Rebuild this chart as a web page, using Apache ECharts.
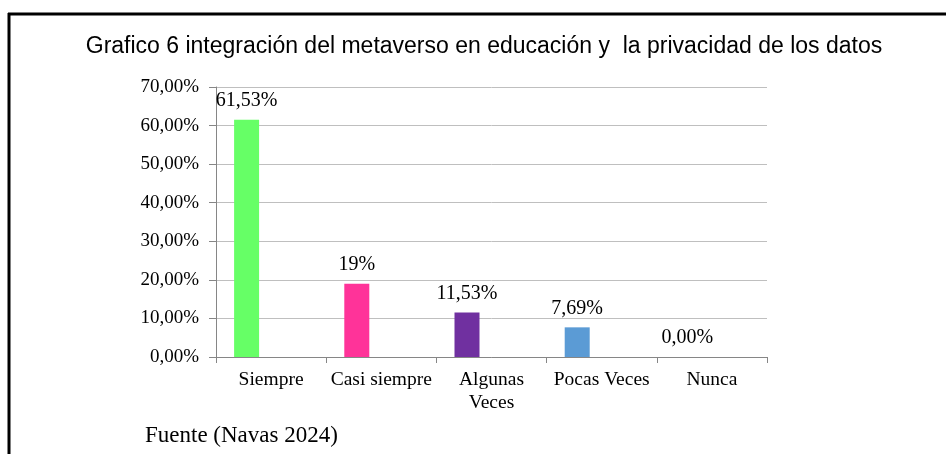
<!DOCTYPE html>
<html>
<head>
<meta charset="utf-8">
<script src="https://cdn.jsdelivr.net/npm/echarts@6/dist/echarts.min.js"></script>
<style>
  html, body { margin: 0; padding: 0; background: #fff; }
  #chart { width: 946px; height: 454px; }
</style>
</head>
<body>
<div id="chart"></div>
<script>
const categories = ["Siempre", "Casi siempre", "Algunas\nVeces", "Pocas Veces", "Nunca"];
const values = [61.53, 19, 11.53, 7.69, 0];
const valueLabels = ["61,53%", "19%", "11,53%", "7,69%", "0,00%"];
const barColors = ["#66FF66", "#FF3399", "#7030A0", "#5B9BD5", "#A5A5A5"];
const yTicks = { min: 0, max: 70, interval: 10 };

const chart = echarts.init(document.getElementById("chart"));
const serif = "'Liberation Serif', 'Times New Roman', serif";

let option = {
  animation: false,
  backgroundColor: "#fff",
  title: [
    {
      text: "Grafico 6 integración del metaverso en educación y  la privacidad de los datos",
      left: 479,
      top: 30,
      textAlign: "center",
      textStyle: {
        fontFamily: "'Liberation Sans', Arial, sans-serif",
        fontSize: 23,
        fontWeight: "normal",
        color: "#000"
      }
    },
    {
      text: "Fuente (Navas 2024)",
      left: 140,
      top: 419,
      textStyle: {
        fontFamily: serif,
        fontSize: 23,
        fontWeight: "normal",
        color: "#000"
      }
    }
  ],
  grid: {
    left: 216,
    right: 179,
    top: 87,
    bottom: 97,
    containLabel: false
  },
  xAxis: {
    type: "category",
    data: categories,
    axisLine: { lineStyle: { color: "#868686", width: 1 } },
    axisTick: { show: true, length: 6, lineStyle: { color: "#868686" } },
    axisLabel: {
      interval: 0,
      margin: 11,
      fontFamily: serif,
      fontSize: 19.5,
      lineHeight: 23,
      color: "#000"
    }
  },
  yAxis: {
    type: "value",
    min: yTicks.min,
    max: yTicks.max,
    interval: yTicks.interval,
    axisLine: { show: true, lineStyle: { color: "#868686", width: 1 } },
    axisTick: { show: true, length: 7, lineStyle: { color: "#868686" } },
    splitLine: { lineStyle: { color: "#BFBFBF", width: 1 } },
    axisLabel: {
      margin: 17,
      fontFamily: serif,
      fontSize: 19,
      color: "#000",
      formatter: v => v.toFixed(2).replace(".", ",") + "%"
    }
  },
  series: [
    {
      type: "bar",
      barWidth: 25,
      barGap: "96%",
      data: values.map((v, i) => ({ value: v, itemStyle: { color: barColors[i] } })),
      label: {
        show: true,
        position: "top",
        distance: 9,
        fontFamily: serif,
        fontSize: 20,
        color: "#000",
        formatter: p => valueLabels[p.dataIndex]
      }
    },
    {
      type: "bar",
      barWidth: 25,
      data: values.map(() => "-")
    }
  ],
  graphic: [
    {
      type: "line",
      shape: { x1: 8, y1: 14, x2: 946, y2: 14 },
      style: { stroke: "#000", lineWidth: 3 }
    },
    {
      type: "line",
      shape: { x1: 9, y1: 13, x2: 9, y2: 454 },
      style: { stroke: "#000", lineWidth: 3 }
    }
  ]
};
chart.setOption(option);
window.addEventListener("resize", () => chart.resize(), false);
</script>
</body>
</html>
